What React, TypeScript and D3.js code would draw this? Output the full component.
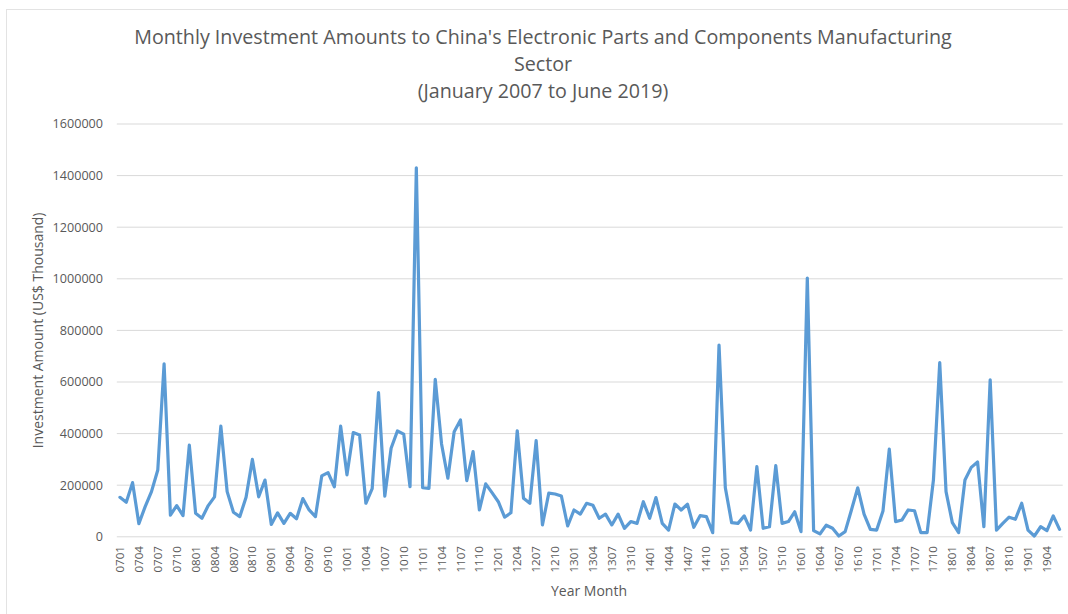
import React from "react";
import * as d3 from "d3";

// Monthly investment amounts (US$ thousand), by year
const v2007 = [153000, 134000, 210000, 51000, 117000, 175000, 259000, 670000, 84000, 121000, 82000, 355000];
const v2008 = [91000, 72000, 121000, 155000, 429000, 175000, 95000, 78000, 153000, 300000, 155000, 220000];
const v2009 = [48000, 93000, 52000, 91000, 70000, 148000, 104000, 78000, 236000, 249000, 194000, 429000];
const v2010 = [240000, 404000, 395000, 130000, 187000, 559000, 158000, 343000, 410000, 398000, 194000, 1430000];
const v2011 = [190000, 188000, 610000, 360000, 227000, 407000, 453000, 218000, 330000, 104000, 205000, 171000];
const v2012 = [136000, 76000, 93000, 411000, 149000, 130000, 373000, 46000, 169000, 166000, 158000, 42000];
const v2013 = [104000, 88000, 130000, 122000, 72000, 88000, 46000, 88000, 33000, 59000, 52000, 136000];
const v2014 = [72000, 152000, 52000, 26000, 127000, 104000, 126000, 37000, 82000, 78000, 16000, 743000];
const v2015 = [190000, 55000, 52000, 81000, 26000, 272000, 33000, 39000, 276000, 52000, 59000, 97000];
const v2016 = [20000, 1003000, 24000, 11000, 45000, 33000, 3000, 20000, 104000, 190000, 88000, 29000];
const v2017 = [26000, 100000, 340000, 59000, 65000, 104000, 101000, 16000, 16000, 220000, 675000, 175000];
const v2018 = [55000, 16000, 220000, 269000, 290000, 39000, 608000, 26000, 52000, 76000, 68000, 130000];
const v2019 = [26000, 3000, 39000, 24000, 81000, 29000];

const values = [
  ...v2007, ...v2008, ...v2009, ...v2010, ...v2011, ...v2012, ...v2013,
  ...v2014, ...v2015, ...v2016, ...v2017, ...v2018, ...v2019,
];

// Category labels "YYMM" from January 2007
const startYear = 2007;
const categories = values.map((_, i) => {
  const y = startYear + Math.floor(i / 12);
  const m = (i % 12) + 1;
  return String(y % 100).padStart(2, "0") + String(m).padStart(2, "0");
});

const yTicks = [0, 200000, 400000, 600000, 800000, 1000000, 1200000, 1400000, 1600000];

const titleLines = [
  "Monthly Investment Amounts to China's Electronic Parts and Components Manufacturing",
  "Sector",
  "(January 2007 to June 2019)",
];

const W = 1068;
const H = 614;
const FONT = "'Open Sans', 'Noto Sans', sans-serif";
const TXT = "#595959";

export default function App() {
  const left = 116.8;
  const right = 1062.7;
  const top = 124;
  const bottom = 536.8;

  const x = d3.scaleBand<string>().domain(categories).range([left, right]).padding(0);
  const y = d3.scaleLinear().domain([0, 1600000]).range([bottom, top]);
  const cx = (c: string) => (x(c) as number) + x.bandwidth() / 2;

  const line = d3
    .line<number>()
    .x((_, i) => cx(categories[i]))
    .y((d) => y(d));

  return (
    <svg
      width={W}
      height={H}
      style={{ position: "absolute", left: 0, top: 0, background: "#fff" }}
      fontFamily={FONT}
    >
      <rect x={0} y={0} width={W} height={H} fill="#fff" />
      <rect x={6.5} y={9.5} width={W + 20} height={H + 20} fill="none" stroke="#e3e3e3" strokeWidth={1} />
      {titleLines.map((t, i) => (
        <text
          key={i}
          x={543}
          y={44 + i * 27}
          textAnchor="middle"
          fontSize={19.7}
          fill={TXT}
        >
          {t}
        </text>
      ))}
      {yTicks.map((t) => (
        <g key={t}>
          <line x1={left} x2={right} y1={y(t)} y2={y(t)} stroke="#d9d9d9" strokeWidth={1} />
          <text
            x={103}
            y={y(t)}
            dy="0.35em"
            textAnchor="end"
            fontSize={12.6}
            fill={TXT}
          >
            {t}
          </text>
        </g>
      ))}
      {categories.map((c, i) =>
        i % 3 === 0 ? (
          <text
            key={c}
            transform={`translate(${cx(c)},${546}) rotate(-90)`}
            textAnchor="end"
            dy="0.35em"
            fontSize={11.6}
            fill={TXT}
          >
            {c}
          </text>
        ) : null
      )}
      <path
        d={line(values) || ""}
        fill="none"
        stroke="#5b9bd5"
        strokeWidth={3.2}
        strokeLinejoin="round"
        strokeLinecap="round"
      />
      <text
        transform={`translate(38,${(top + bottom) / 2}) rotate(-90)`}
        textAnchor="middle"
        dy="0.35em"
        fontSize={14}
        fill={TXT}
      >
        Investment Amount (US$ Thousand)
      </text>
      <text x={589} y={596} textAnchor="middle" fontSize={14} fill={TXT}>
        Year Month
      </text>
    </svg>
  );
}
